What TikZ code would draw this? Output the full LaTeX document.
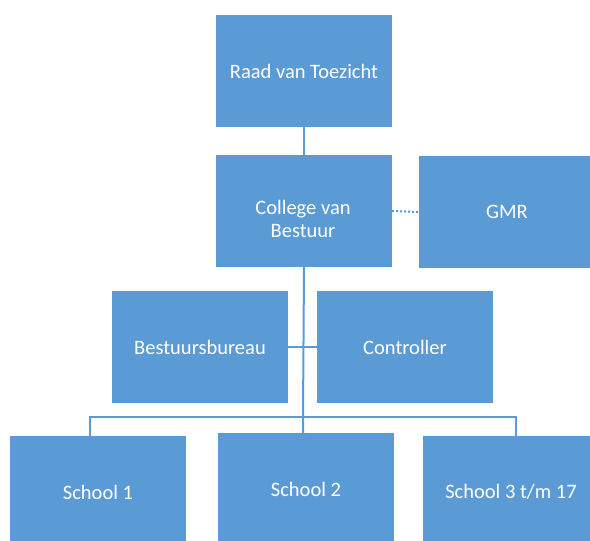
\documentclass[tikz,border=0pt]{standalone}
\usepackage{fontspec}
\setmainfont{Carlito}
\usetikzlibrary{positioning}
\definecolor{orgblue}{HTML}{5B9BD5}
\tikzset{
  orgbox/.style={fill=orgblue, text=white, inner sep=0pt,
    minimum width=176pt, minimum height=112pt,
    font=\fontsize{20.5}{23}\selectfont, align=center},
  orgline/.style={draw=orgblue, line width=2pt},
}

\begin{document}
\begin{tikzpicture}[x=1pt,y=-1pt]
    \clip (0,0) rectangle (590,541);

    % boxes
    \node[orgbox] (raad)       at (304,71)  {Raad van Toezicht};
    \node[orgbox] (college)    at (304,211) {};
    \node[orgbox,minimum size=0pt,fill=none] (collegetext)
                               at (303,219) {College van\\Bestuur};
    \node[orgbox] (gmr)        at (507,212) {GMR};
    \node[orgbox] (bureau)     at (200,347) {Bestuursbureau};
    \node[orgbox] (controller) at (405,347) {Controller};
    \node[orgbox] (school1)    at (98,492)  {School 1};
    \node[orgbox] (school2)    at (306,489) {School 2};
    \node[orgbox] (school3)    at (511,492) {School 3 t/m 17};

    \coordinate (bus) at (303,417);

    % lines
    \draw[orgline] (raad.south) -- (college.north);
    \draw[orgline] (college.south) -- (bus) -- (bus |- school2.north);
    \draw[orgline] (bureau.east) -- (controller.west);
    \draw[orgline] ([xshift=-8pt]school1.north) |- (bus)
                   -| ([xshift=5pt]school3.north);
    \draw[orgline,dash pattern=on 2pt off 2pt] (college.east) -- (gmr.west);
\end{tikzpicture}
\end{document}
